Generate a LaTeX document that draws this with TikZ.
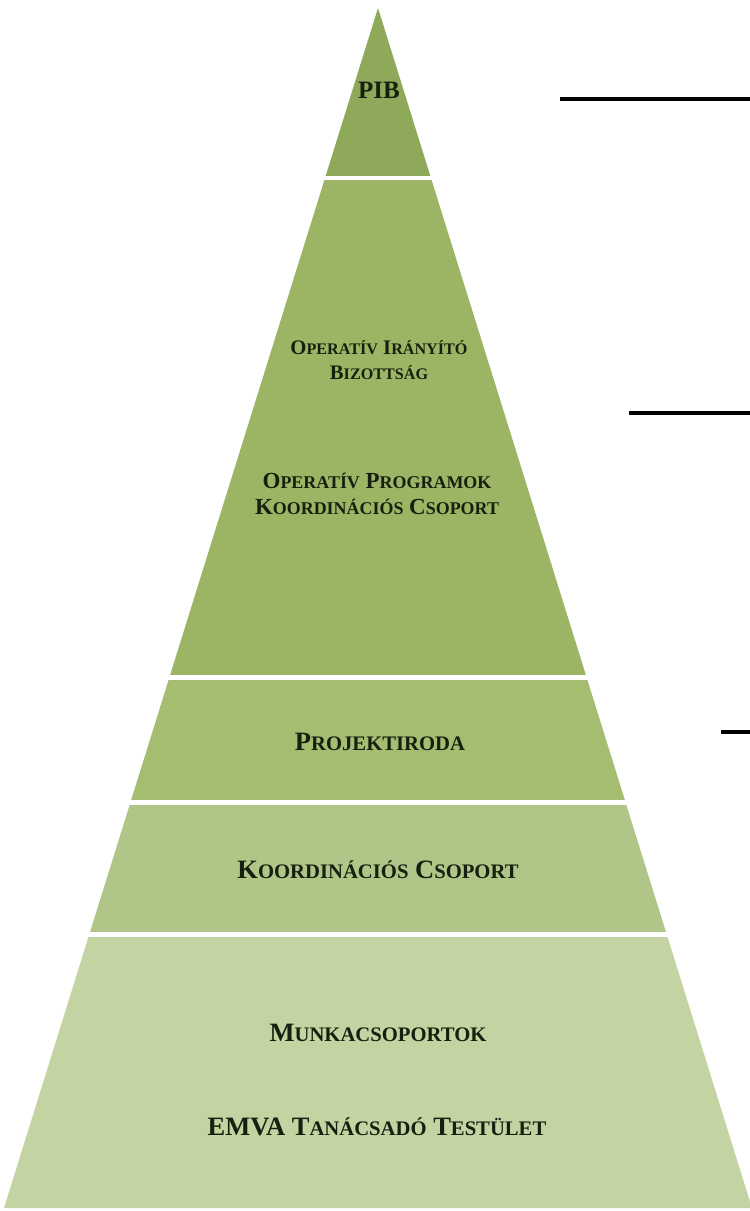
\documentclass[tikz,border=0pt]{standalone}
\usepackage{fontspec}
\setmainfont{Liberation Serif}
\usepackage{graphicx}
\newcommand\smc[1]{\scalebox{0.78}{#1}}
\definecolor{bandA}{HTML}{8FA95A}
\definecolor{bandB}{HTML}{9BB565}
\definecolor{bandC}{HTML}{A4BD70}
\definecolor{bandD}{HTML}{B0C688}
\definecolor{bandE}{HTML}{C3D3A1}
\definecolor{txt}{HTML}{15200E}
\begin{document}
\begin{tikzpicture}[x=1pt,y=-1pt,
  lbl/.style={font=\bfseries, text=txt, align=center, inner sep=0pt},
  pibs/.style={lbl, font=\fontsize{25}{28}\selectfont\bfseries},
  big/.style={lbl, font=\fontsize{26.5}{30}\selectfont\bfseries},
  mid/.style={lbl, font=\fontsize{23}{26}\selectfont\bfseries},
  small/.style={lbl, font=\fontsize{20.7}{25}\selectfont\bfseries},
  rule/.style={line width=4pt, black}]
\useasboundingbox (0,0) rectangle (750,1211);
\begin{scope}
\clip (378,8) -- (752,1208) -- (4,1208) -- cycle;
\fill[bandA] (0,0) rectangle (750,176);
\fill[bandB] (0,180) rectangle (750,675);
\fill[bandC] (0,680) rectangle (750,800);
\fill[bandD] (0,805) rectangle (750,932);
\fill[bandE] (0,937) rectangle (750,1211);
\end{scope}
\node[pibs] (pib) at (379,90) {PIB};
\node[small] (oib) at (379,360) {O\smc{PERATÍV} I\smc{RÁNYÍTÓ}\\B\smc{IZOTTSÁG}};
\node[mid] (opk) at (377,494) {O\smc{PERATÍV} P\smc{ROGRAMOK}\\K\smc{OORDINÁCIÓS} C\smc{SOPORT}};
\node[big] (proj) at (380,742) {P\smc{ROJEKTIRODA}};
\node[big] (koord) at (378,870) {K\smc{OORDINÁCIÓS} C\smc{SOPORT}};
\node[big] (munka) at (378,1033) {M\smc{UNKACSOPORTOK}};
\node[big] (emva) at (377,1127) {EMVA T\smc{ANÁCSADÓ} T\smc{ESTÜLET}};
\coordinate (l1a) at (560,99);
\coordinate (l1b) at (750,99);
\coordinate (l2a) at (629,413);
\coordinate (l2b) at (750,413);
\coordinate (l3a) at (721,732);
\coordinate (l3b) at (750,732);
\draw[rule] (l1a) -- (l1b);
\draw[rule] (l2a) -- (l2b);
\draw[rule] (l3a) -- (l3b);
\end{tikzpicture}
\end{document}
